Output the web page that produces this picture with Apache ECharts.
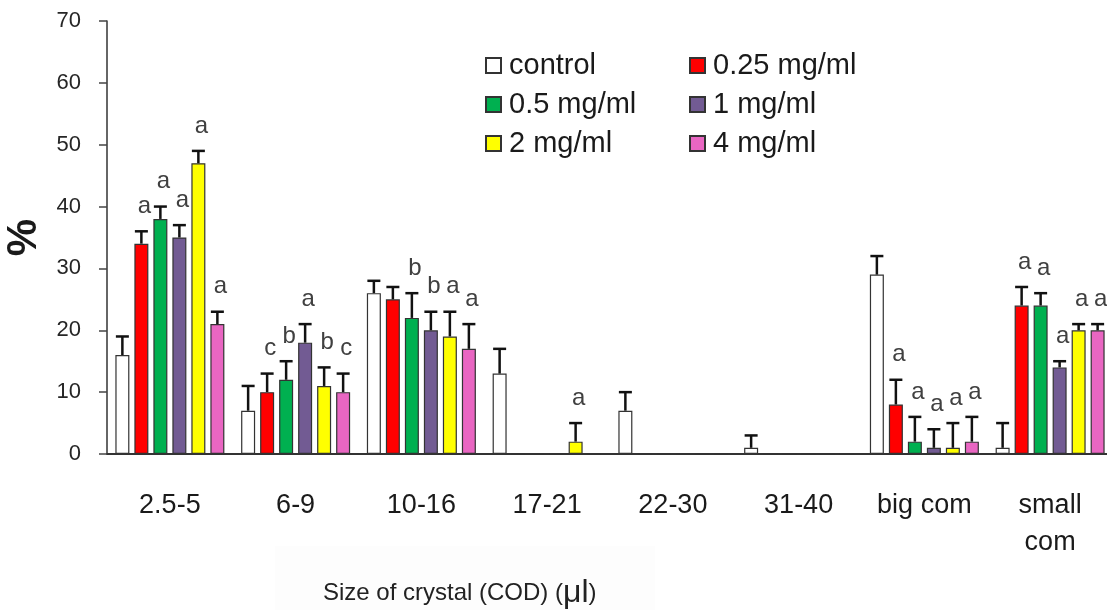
<!DOCTYPE html>
<html>
<head>
<meta charset="utf-8">
<script src="https://cdn.jsdelivr.net/npm/echarts@6/dist/echarts.min.js"></script>
<style>
  html, body { margin: 0; padding: 0; background: #fff; }
  #chart { width: 1107px; height: 610px; }
</style>
</head>
<body>
<div id="chart"></div>
<script>
// crystal size classes (x axis)
const categories = ['2.5-5', '6-9', '10-16', '17-21', '22-30', '31-40', 'big com', 'small\ncom'];
const seriesNames = ['control', '0.25 mg/ml', '0.5 mg/ml', '1 mg/ml', '2 mg/ml', '4 mg/ml'];
const seriesColors = ['#ffffff', '#ff0000', '#00b050', '#725b93', '#ffff00', '#e966c2'];

// mean % per class
const control = [16, 7, 26, 13, 7, 1, 29, 1];
const dose025 = [34, 10, 25, 0, 0, 0, 8, 24];
const dose05 = [38, 12, 22, 0, 0, 0, 2, 24];
const dose1 = [35, 18, 20, 0, 0, 0, 1, 14];
const dose2 = [47, 11, 19, 2, 0, 0, 1, 20];
const dose4 = [21, 10, 17, 0, 0, 0, 2, 20];

// upper error (SD) per class
const controlErr = [3, 4, 2, 4, 3, 2, 3, 4];
const dose025Err = [2, 3, 2, 0, 0, 0, 4, 3];
const dose05Err = [2, 3, 4, 0, 0, 0, 4, 2];
const dose1Err = [2, 3, 3, 0, 0, 0, 3, 1];
const dose2Err = [2, 3, 4, 3, 0, 0, 4, 1];
const dose4Err = [2, 3, 4, 0, 0, 0, 4, 1];

// significance letters
const controlSig = ['', '', '', '', '', '', '', ''];
const dose025Sig = ['a', 'c', '', '', '', '', 'a', 'a'];
const dose05Sig = ['a', 'b', 'b', '', '', '', 'a', 'a'];
const dose1Sig = ['a', 'a', 'b', '', '', '', 'a', 'a'];
const dose2Sig = ['a', 'b', 'a', 'a', '', '', 'a', 'a'];
const dose4Sig = ['a', 'c', 'a', '', '', '', 'a', 'a'];

const yTicks = [0, 70, 10]; // min, max, interval

const values = [control, dose025, dose05, dose1, dose2, dose4];
const errors = [controlErr, dose025Err, dose05Err, dose1Err, dose2Err, dose4Err];
const letters = [controlSig, dose025Sig, dose05Sig, dose1Sig, dose2Sig, dose4Sig];

const BAR_W = 14;
const BAR_GAP = 5;
const FONT = '"Liberation Sans", Arial, sans-serif';

let chart = echarts.init(document.getElementById('chart'));

let series = [];
values.forEach((vals, i) => {
    series.push({
        name: seriesNames[i],
        type: 'bar',
        data: vals,
        barWidth: BAR_W,
        barGap: (BAR_GAP / BAR_W * 100) + '%',
        itemStyle: {
            color: seriesColors[i],
            borderColor: '#333',
            borderWidth: 1.2
        },
        emphasis: {disabled: true}
    });
});

// error bars + letters drawn on top of the bars
values.forEach((vals, i) => {
    series.push({
        type: 'custom',
        z: 3,
        silent: true,
        data: vals.map((v, k) => [k, v, errors[i][k]]),
        renderItem: (params, api) => {
            let k = api.value(0);
            let v = api.value(1);
            let e = api.value(2);
            let base = api.coord([k, v]);
            let top = api.coord([k, v + e]);
            let x = base[0] + (i - 2.5) * (BAR_W + BAR_GAP);
            let children = [];
            if (e > 0) {
                children.push({
                    type: 'line',
                    shape: {x1: x, y1: base[1], x2: x, y2: top[1]},
                    style: {stroke: '#111', lineWidth: 2.5}
                });
                children.push({
                    type: 'line',
                    shape: {x1: x - 6.5, y1: top[1], x2: x + 6.5, y2: top[1]},
                    style: {stroke: '#111', lineWidth: 2.5}
                });
            }
            let txt = letters[i][k];
            if (txt) {
                children.push({
                    type: 'text',
                    style: {
                        text: txt,
                        x: x + 3,
                        y: top[1] - 25,
                        align: 'center',
                        verticalAlign: 'middle',
                        fill: '#404040',
                        font: '24px ' + FONT
                    }
                });
            }
            return {type: 'group', children: children};
        }
    });
});

const legendCommon = {
    orient: 'vertical',
    icon: 'rect',
    itemWidth: 15,
    itemHeight: 15,
    itemGap: 10,
    selectedMode: false,
    textStyle: {fontSize: 29, fontFamily: FONT, color: '#1a1a1a', padding: [0, 0, 0, 3]}
};

let option = {
    backgroundColor: '#ffffff',
    animation: false,
    grid: {left: 107, right: -6, top: 21, bottom: 156, containLabel: false, outerBoundsMode: 'none'},
    legend: [
        Object.assign({left: 480, top: 46, data: [seriesNames[0], seriesNames[2], seriesNames[4]]}, legendCommon),
        Object.assign({left: 684, top: 46, data: [seriesNames[1], seriesNames[3], seriesNames[5]]}, legendCommon)
    ],
    graphic: [{
        type: 'rect',
        silent: true,
        z: -10,
        shape: {x: 275, y: 546, width: 380, height: 64},
        style: {fill: '#fdfdfd'}
    }, {
        type: 'text',
        left: 323,
        top: 577,
        style: {
            text: 'Size of crystal (COD) ({mu|μl})',
            rich: {mu: {fontSize: 32, fontFamily: FONT, fill: '#222'}},
            fill: '#222',
            font: '24px ' + FONT
        }
    }],
    xAxis: {
        type: 'category',
        data: categories,
        axisLine: {lineStyle: {color: '#333', width: 2}},
        axisTick: {length: 9, lineStyle: {color: '#444', width: 1.5}},
        axisLabel: {
            margin: 33,
            fontSize: 27,
            lineHeight: 37,
            fontFamily: FONT,
            color: '#1a1a1a',
            interval: 0
        }
    },
    yAxis: {
        type: 'value',
        min: yTicks[0],
        max: yTicks[1],
        interval: yTicks[2],
        name: '%',
        nameLocation: 'middle',
        nameRotate: 90,
        nameGap: 57,
        nameTextStyle: {fontSize: 42, fontWeight: 'bold', fontFamily: FONT, color: '#1a1a1a'},
        axisLine: {show: true, lineStyle: {color: '#333', width: 1.5}},
        axisTick: {show: true, length: 8, lineStyle: {color: '#444', width: 1.5}},
        axisLabel: {margin: 26, fontSize: 22, fontFamily: FONT, color: '#262626'},
        splitLine: {show: false}
    },
    series: series
};

chart.setOption(option);
</script>
</body>
</html>
